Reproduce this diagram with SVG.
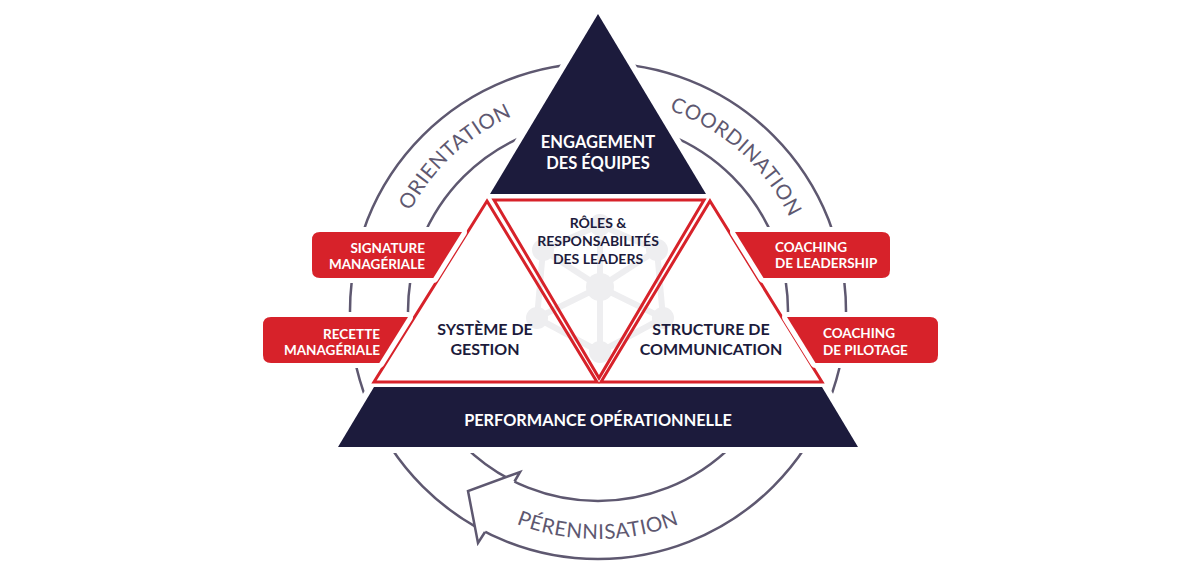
<svg xmlns="http://www.w3.org/2000/svg" width="1200" height="565" viewBox="0 0 1200 565">
<defs>
<style>
.ring{fill:none;stroke:#5e5870;stroke-width:2.5}
.halo{fill:#fff;stroke:#fff;stroke-width:12;stroke-linejoin:round}
.navy{fill:#1c1b3c}
.tri{fill:none;stroke:#d7222a;stroke-width:3}
.box{fill:#d7222a}
.boxhalo{fill:#fff;stroke:#fff;stroke-width:10;stroke-linejoin:round}
text{font-family:Lato,"Open Sans","Liberation Sans",sans-serif;font-weight:700}
.w{fill:#fff}
.d{fill:#1c1b3c}
.rt{fill:#5e5870;font-weight:400;font-size:20.5px;letter-spacing:0.6px}
.icon line{stroke:#eeeef0;stroke-width:6}
.icon circle{fill:#eeeef0}
.arrow{fill:none;stroke:#5e5870;stroke-width:2.5;stroke-linejoin:miter}
</style>
<path id="pOri" d="M386.1,293.6 A213,213 0 0 1 596.5,98"/>
<path id="pCoo" d="M598.9,98 A213,213 0 0 1 809.9,286.5"/>
<path id="pPer" d="M436.8,472.2 A228,228 0 0 0 759.2,472.2"/>
</defs>
<rect width="1200" height="565" fill="#fff"/>

<g id="ring">
<circle class="ring" cx="598" cy="311" r="248"/>
<circle class="ring" cx="598" cy="311" r="190"/>
<path d="M485,532 L478,543 L468,491 L520,472 L514.5,481.5 Z" fill="#fff"/>
<path class="arrow" d="M485,532 L478,543 L468,491 L520,472 L514.5,481.5"/>
<text class="rt"><textPath href="#pOri" startOffset="50%" text-anchor="middle">ORIENTATION</textPath></text>
<text class="rt"><textPath href="#pCoo" startOffset="50%" text-anchor="middle">COORDINATION</textPath></text>
<text class="rt"><textPath href="#pPer" startOffset="50%" text-anchor="middle">PÉRENNISATION</textPath></text>
</g>

<polygon class="halo" points="598,14 338,447 858,447"/>

<g id="icon" class="icon">
<line x1="600" y1="287" x2="543" y2="250"/>
<line x1="600" y1="287" x2="657" y2="250"/>
<line x1="600" y1="287" x2="537" y2="318"/>
<line x1="600" y1="287" x2="663" y2="318"/>
<line x1="600" y1="287" x2="600" y2="352"/>
<line x1="600" y1="287" x2="600" y2="225"/>
<line x1="543" y1="250" x2="537" y2="318"/>
<line x1="657" y1="250" x2="663" y2="318"/>
<line x1="537" y1="318" x2="600" y2="352"/>
<line x1="663" y1="318" x2="600" y2="352"/>
<line x1="543" y1="250" x2="600" y2="225"/>
<line x1="657" y1="250" x2="600" y2="225"/>
<circle cx="600" cy="287" r="14"/>
<circle cx="543" cy="250" r="11"/>
<circle cx="657" cy="250" r="11"/>
<circle cx="537" cy="318" r="11"/>
<circle cx="663" cy="318" r="11"/>
<circle cx="600" cy="352" r="11"/>
<circle cx="600" cy="225" r="11"/>
</g>

<g id="engagement">
<polygon class="navy" points="598,14 706,194 490,194"/>
<text class="w" font-size="16.5" text-anchor="middle"><tspan x="598" y="148">ENGAGEMENT</tspan><tspan x="598" y="169">DES ÉQUIPES</tspan></text>
</g>

<g id="performance">
<polygon class="navy" points="374,387 822,387 858,447 338,447"/>
<text class="w" font-size="16.3" text-anchor="middle" x="598" y="426">PERFORMANCE OPÉRATIONNELLE</text>
</g>

<g id="systeme">
<path class="tri" d="M487,201 L597,382 L374,382 Z"/>
<text class="d" font-size="16" text-anchor="middle"><tspan x="485" y="335">SYSTÈME DE</tspan><tspan x="485" y="355">GESTION</tspan></text>
</g>

<g id="roles">
<path class="tri" d="M494,200 L704,200 L599,378 Z"/>
<text class="d" font-size="14" text-anchor="middle"><tspan x="598" y="228">RÔLES &amp;</tspan><tspan x="598" y="246">RESPONSABILITÉS</tspan><tspan x="598" y="264">DES LEADERS</tspan></text>
</g>

<g id="structure">
<path class="tri" d="M710,201 L822,382 L601,382 Z"/>
<text class="d" font-size="16" text-anchor="middle"><tspan x="711" y="335">STRUCTURE DE</tspan><tspan x="711" y="355">COMMUNICATION</tspan></text>
</g>

<g id="signature">
<path class="boxhalo" d="M320,232 L462,232 L433.3,278 L320,278 Q312,278 312,270 L312,240 Q312,232 320,232 Z"/>
<path class="box" d="M320,232 L462,232 L433.3,278 L320,278 Q312,278 312,270 L312,240 Q312,232 320,232 Z"/>
<text class="w" font-size="13.5" text-anchor="end"><tspan x="425" y="253">SIGNATURE</tspan><tspan x="425" y="269">MANAGÉRIALE</tspan></text>
</g>

<g id="recette">
<path class="boxhalo" d="M271,317 L408,317 L379.3,363 L271,363 Q263,363 263,355 L263,325 Q263,317 271,317 Z"/>
<path class="box" d="M271,317 L408,317 L379.3,363 L271,363 Q263,363 263,355 L263,325 Q263,317 271,317 Z"/>
<text class="w" font-size="13.5" text-anchor="end"><tspan x="380" y="339">RECETTE</tspan><tspan x="380" y="355">MANAGÉRIALE</tspan></text>
</g>

<g id="leadership">
<path class="boxhalo" d="M735,232 L882,232 Q890,232 890,240 L890,270 Q890,278 882,278 L763.5,278 Z"/>
<path class="box" d="M735,232 L882,232 Q890,232 890,240 L890,270 Q890,278 882,278 L763.5,278 Z"/>
<text class="w" font-size="13.5"><tspan x="775" y="252">COACHING</tspan><tspan x="775" y="268">DE LEADERSHIP</tspan></text>
</g>

<g id="pilotage">
<path class="boxhalo" d="M787,317 L930,317 Q938,317 938,325 L938,355 Q938,363 930,363 L815.5,363 Z"/>
<path class="box" d="M787,317 L930,317 Q938,317 938,325 L938,355 Q938,363 930,363 L815.5,363 Z"/>
<text class="w" font-size="13.5"><tspan x="823" y="338">COACHING</tspan><tspan x="823" y="355">DE PILOTAGE</tspan></text>
</g>
</svg>
